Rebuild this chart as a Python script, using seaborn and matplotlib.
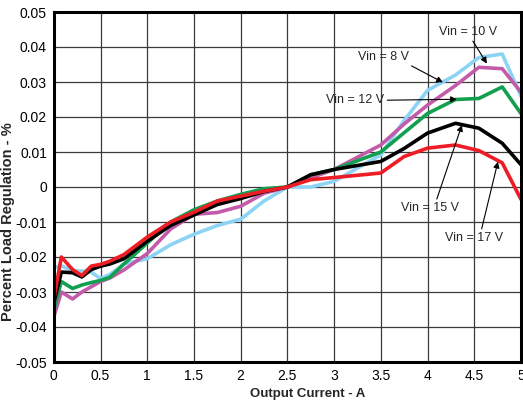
import matplotlib
matplotlib.use("Agg")
import matplotlib.pyplot as plt
import seaborn as sns
import pandas as pd
from matplotlib.ticker import FuncFormatter

# ---- data ----
current = [0, 0.08, 0.2, 0.3, 0.4, 0.5, 0.6, 0.75, 1.0, 1.25, 1.5, 1.75, 2.0,
           2.25, 2.5, 2.75, 3.0, 3.5, 3.75, 4.0, 4.3, 4.55, 4.8, 5.0]

vin8 = [-0.037, -0.030, -0.032, -0.030, -0.0285, -0.027, -0.026, -0.0237, -0.019,
        -0.012, -0.0078, -0.0073, -0.0055, -0.0018, 0.0, 0.0026, 0.005, 0.012,
        0.018, 0.0234, 0.029, 0.0342, 0.0338, 0.0271]
vin10 = [-0.023, -0.0225, -0.024, -0.024, -0.0243, -0.0262, -0.025, -0.022, -0.0205,
         -0.0165, -0.0135, -0.011, -0.0092, -0.004, 0.0, 0.0, 0.0016, 0.0092,
         0.019, 0.0276, 0.032, 0.037, 0.038, 0.026]
vin12 = [-0.035, -0.027, -0.029, -0.028, -0.0273, -0.0267, -0.0258, -0.022, -0.016,
         -0.010, -0.0065, -0.004, -0.0021, -0.0005, 0.0, 0.0035, 0.005, 0.010,
         0.0155, 0.021, 0.025, 0.0253, 0.0286, 0.021]
vin15 = [-0.033, -0.0243, -0.0245, -0.0257, -0.0236, -0.0226, -0.022, -0.0205, -0.0155,
         -0.011, -0.008, -0.005, -0.0033, -0.0013, 0.0, 0.0035, 0.005, 0.0073,
         0.011, 0.0154, 0.0182, 0.0168, 0.0125, 0.0064]
vin17 = [-0.032, -0.020, -0.0236, -0.0253, -0.0226, -0.0221, -0.0212, -0.0193, -0.0143,
         -0.0100, -0.0072, -0.004, -0.0026, -0.0012, 0.0, 0.0021, 0.0027, 0.004,
         0.0087, 0.0111, 0.012, 0.0104, 0.0069, -0.0035]

series_names = ["Vin = 8 V", "Vin = 10 V", "Vin = 12 V", "Vin = 15 V", "Vin = 17 V"]
series_values = [vin8, vin10, vin12, vin15, vin17]
colors = ["#C45BAA", "#8DD3F5", "#12A050", "#000000", "#EE1C25"]

x_ticks = [0, 0.5, 1, 1.5, 2, 2.5, 3, 3.5, 4, 4.5, 5]
y_ticks = [-0.05, -0.04, -0.03, -0.02, -0.01, 0, 0.01, 0.02, 0.03, 0.04, 0.05]

rows = []
for name, vals in zip(series_names, series_values):
    for xv, yv in zip(current, vals):
        rows.append({"Output Current": xv, "Regulation": yv, "Series": name})
df = pd.DataFrame(rows)

# ---- plot ----
sns.set_style("white")
plt.rcParams["font.family"] = ["Liberation Sans", "DejaVu Sans"]

fig = plt.figure(figsize=(5.23, 4.0), dpi=100)
ax = fig.add_axes([0.103, 0.095, 0.893, 0.875])

# draw order: light blue, purple, green, black, red on top
order = ["Vin = 10 V", "Vin = 8 V", "Vin = 12 V", "Vin = 15 V", "Vin = 17 V"]
palette = dict(zip(series_names, colors))
for i, name in enumerate(order):
    sub = df[df["Series"] == name]
    sns.lineplot(data=sub, x="Output Current", y="Regulation", color=palette[name],
                 lw=2.6, sort=False, estimator=None, ax=ax, zorder=3 + i,
                 legend=False)

ax.set_xlim(0, 5)
ax.set_ylim(-0.05, 0.05)
ax.set_xticks(x_ticks)
ax.set_yticks(y_ticks)
fmt = FuncFormatter(lambda v, p: ("%g" % round(v, 3)).replace("\u2212", "-"))
ax.xaxis.set_major_formatter(fmt)
ax.yaxis.set_major_formatter(fmt)
ax.grid(True, color="#3a3a3a", lw=0.9)
ax.tick_params(axis="both", direction="in", length=4, width=1, labelsize=10,
               colors="black", pad=5)
for sp in ax.spines.values():
    sp.set_color("black")
    sp.set_linewidth(2.2)
    sp.set_zorder(10)

ax.set_xlabel("Output Current - A", fontsize=9.5, fontweight="bold")
ax.set_ylabel("Percent Load Regulation - %", fontsize=10.5, fontweight="bold")
ax.xaxis.set_label_coords(0.544, -0.075)
ax.yaxis.set_label_coords(-0.083, 0.40)

# ---- annotations ----
arrow = dict(arrowstyle="-|>", color="black", lw=0.8, mutation_scale=9,
             shrinkA=0, shrinkB=0)

def px(xp, yp):
    return ((xp - 54) / 93.4, (187.5 - yp) / 3530)

ax.annotate("Vin = 10 V", xy=px(487, 63), xytext=px(468, 31), fontsize=9,
            ha="center", va="center", zorder=20,
            arrowprops=dict(arrow, relpos=(0.55, 0.0)))
ax.annotate("Vin = 8 V", xy=px(443, 82), xytext=px(384, 56), fontsize=9,
            ha="center", va="center", zorder=20,
            arrowprops=dict(arrow, relpos=(0.92, 0.0)))
ax.annotate("Vin = 12 V", xy=px(457, 99), xytext=px(355, 100), fontsize=9,
            ha="center", va="center", zorder=20,
            arrowprops=dict(arrow, relpos=(1.0, 0.5)))
ax.annotate("Vin = 15 V", xy=px(462, 125), xytext=px(430, 209), fontsize=9,
            ha="center", va="center", zorder=20,
            arrowprops=dict(arrow, relpos=(0.6, 1.0)))
ax.annotate("Vin = 17 V", xy=px(498, 162), xytext=px(474, 239), fontsize=9,
            ha="center", va="center", zorder=20,
            arrowprops=dict(arrow, relpos=(0.62, 1.0)))

fig.savefig("out.png", dpi=100)
